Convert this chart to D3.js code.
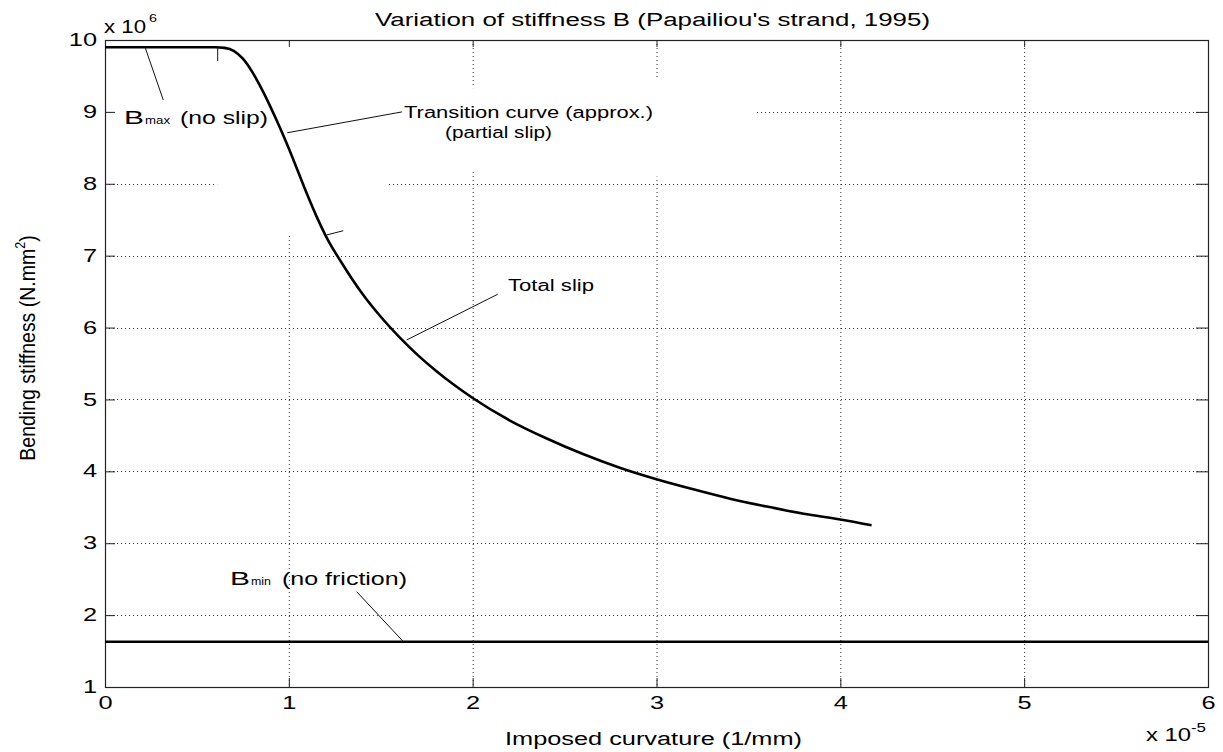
<!DOCTYPE html>
<html><head><meta charset="utf-8">
<script src="https://cdn.jsdelivr.net/npm/d3@7"></script>
<style>
body{margin:0;background:#fff}
svg{display:block}
text{font-family:"Liberation Sans",Arial,Helvetica,sans-serif;fill:#000}
</style>
</head><body><svg id="c" width="1223" height="752"></svg>
<script>
// ---- data ----
const xTicks=[0,1,2,3,4,5,6];
const yTicks=[1,2,3,4,5,6,7,8,9,10];
const curvature=[0,0.1,0.2,0.3,0.4,0.5,0.6,0.65,0.7,0.75,0.8,0.85,0.9,0.95,1.0,1.05,1.1,1.15,1.2,1.3,1.4,1.5,1.6,1.7,1.8,1.9,2.0,2.2,2.4,2.6,2.8,3.0,3.2,3.4,3.6,3.8,4.0,4.17];
const stiffness=[9.9,9.9,9.9,9.9,9.9,9.9,9.9,9.89,9.85,9.74,9.56,9.33,9.07,8.79,8.49,8.17,7.85,7.55,7.28,6.85,6.47,6.15,5.87,5.62,5.40,5.20,5.02,4.71,4.46,4.24,4.05,3.89,3.75,3.62,3.51,3.41,3.33,3.25];
const bMinCurv=[0,6];
const bMinVal=[1.63,1.63];
// annotation leader lines [k1,B1,k2,B2]
const leaders=[[0.218,9.9,0.317,9.165],[0.992,8.71,1.616,9.0],[1.206,7.288,1.296,7.347],[1.641,5.827,2.136,6.463],[1.369,2.326,1.623,1.63],[0.613,9.9,0.613,9.708]];
// grid segments hidden in the original [k1,k2,B1,B2]
const gridGaps=[[0,3.54,8.95,9.05],[0.97,1.03,7.3,10],[1.97,2.03,8.2,9.33],[2.97,3.03,8.1,9.47],[0.61,1.53,7.95,8.05]];

// ---- layout ----
const svg=d3.select('#c');
const L=105,R=1208,T=40,B=687;
const x=d3.scaleLinear().domain([0,6]).range([L,R]);
const y=d3.scaleLinear().domain([1,10]).range([B,T]);

// grid
const grid=svg.append('g').attr('stroke','#333').attr('stroke-width',1).attr('stroke-dasharray','1,3');
grid.selectAll('.gx').data(xTicks.slice(1,-1)).enter().append('line')
  .attr('x1',d=>x(d)+0.5).attr('x2',d=>x(d)+0.5).attr('y1',T).attr('y2',B);
grid.selectAll('.gy').data(yTicks.slice(1,-1)).enter().append('line')
  .attr('y1',d=>Math.round(y(d))+0.5).attr('y2',d=>Math.round(y(d))+0.5).attr('x1',L).attr('x2',R);
svg.append('g').selectAll('rect').data(gridGaps).enter().append('rect')
  .attr('x',d=>x(d[0])).attr('width',d=>x(d[1])-x(d[0]))
  .attr('y',d=>y(d[3])).attr('height',d=>y(d[2])-y(d[3])).attr('fill','#fff');

// axes
const ax=svg.append('g');
ax.append('g').attr('transform',`translate(0,${B})`)
  .call(d3.axisBottom(x).tickValues(xTicks).tickSize(-9).tickSizeOuter(0).tickPadding(10).tickFormat(d3.format('d')));
ax.append('g').attr('transform',`translate(0,${T})`)
  .call(d3.axisTop(x).tickValues(xTicks).tickSize(-7).tickSizeOuter(0).tickFormat(''));
ax.append('g').attr('transform',`translate(${L},0)`)
  .call(d3.axisLeft(y).tickValues(yTicks).tickSize(-10).tickSizeOuter(0).tickPadding(5.5).tickFormat(d3.format('d')));
ax.append('g').attr('transform',`translate(${R},0)`)
  .call(d3.axisRight(y).tickValues(yTicks).tickSize(-12).tickSizeOuter(0).tickFormat(''));
ax.selectAll('.domain').remove();
ax.selectAll('.tick line').attr('stroke','#222');
ax.selectAll('.tick text').attr('font-size',17.5).attr('font-family','"Liberation Sans",Arial,sans-serif').attr('fill','#000')
  .attr('transform','scale(1.45,1)');
svg.append('rect').attr('x',L+0.5).attr('y',T+0.5).attr('width',R-L).attr('height',B-T)
  .attr('fill','none').attr('stroke','#222').attr('stroke-width',1.2);

// curves
const line=d3.line().x(d=>x(d[0])).y(d=>y(d[1])).curve(d3.curveMonotoneX);
svg.append('path').datum(curvature.map((k,i)=>[k,stiffness[i]])).attr('d',line)
  .attr('fill','none').attr('stroke','#000').attr('stroke-width',2.6);
svg.append('path').datum(bMinCurv.map((k,i)=>[k,bMinVal[i]])).attr('d',d3.line().x(d=>x(d[0])).y(d=>y(d[1])))
  .attr('fill','none').attr('stroke','#000').attr('stroke-width',2.6);

// leaders
svg.append('g').selectAll('line').data(leaders).enter().append('line')
  .attr('x1',d=>x(d[0])).attr('y1',d=>y(d[1])).attr('x2',d=>x(d[2])).attr('y2',d=>y(d[3]))
  .attr('stroke','#111').attr('stroke-width',1);

// texts
function txt(px,py,str,size,len,anchor){
  const t=svg.append('text').attr('x',px).attr('y',py).attr('font-size',size).text(str);
  if(len) t.attr('textLength',len).attr('lengthAdjust','spacingAndGlyphs');
  if(anchor) t.attr('text-anchor',anchor);
  return t;
}
txt(375,26,"Variation of stiffness B (Papailiou's strand, 1995)",18,555);
txt(505,745,"Imposed curvature (1/mm)",18,297);
txt(104,33,"x 10",18,42);
txt(149,22,"6",11.5,8);
txt(1146,741,"x 10",18,45);
txt(1191,732,"-5",12,15);
txt(124,124,"B",18,20);
txt(145,124,"max",10.5,25);
txt(180,124,"(no slip)",18,88);
txt(404,118,"Transition curve (approx.)",16,249);
txt(445,138,"(partial slip)",16,107);
txt(508,291,"Total slip",16,86);
txt(230,585,"B",18,20);
txt(251,585,"min",10.5,20);
txt(282,585,"(no friction)",18,125);
// y label
const yl=svg.append('text').attr('transform','translate(35,348) scale(1.15,1) rotate(-90)')
  .attr('text-anchor','middle').attr('font-size',19.5);
yl.append('tspan').text('Bending stiffness (N.mm');
yl.append('tspan').attr('font-size',12.5).attr('dy',-9).text('2');
yl.append('tspan').attr('dy',9).text(')');
</script></body></html>
